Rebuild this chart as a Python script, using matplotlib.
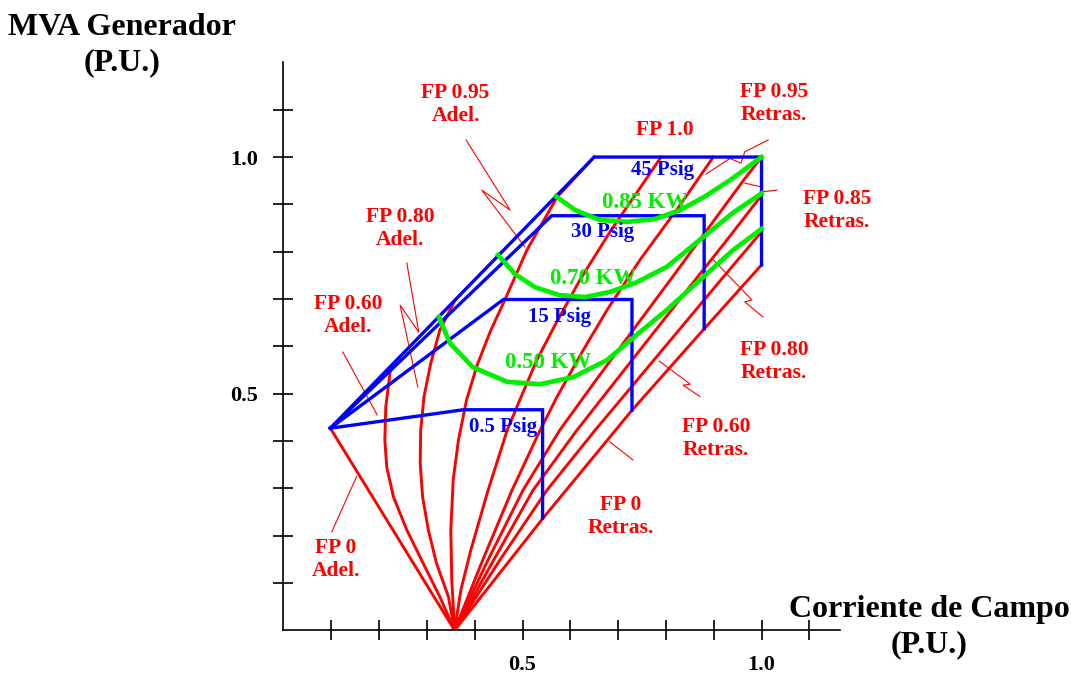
import matplotlib
matplotlib.use("Agg")
import matplotlib.pyplot as plt

# ---------------- data (per-unit values) ----------------
# constant power-factor lines (field current x, generator MVA y)
fp0_adel_x = [0.358, 0.098]
fp0_adel_y = [0.0, 0.427]
fp060_adel_x = [0.358, 0.327, 0.292, 0.258, 0.230, 0.216, 0.212, 0.214, 0.224]
fp060_adel_y = [0.0, 0.071, 0.142, 0.212, 0.282, 0.345, 0.402, 0.472, 0.554]
fp080_adel_x = [0.358, 0.345, 0.320, 0.303, 0.291, 0.286, 0.287, 0.294, 0.308, 0.327, 0.359]
fp080_adel_y = [0.0, 0.071, 0.142, 0.212, 0.282, 0.353, 0.423, 0.494, 0.564, 0.634, 0.698]
fp095_adel_x = [0.358, 0.352, 0.350, 0.355, 0.366, 0.383, 0.405, 0.432, 0.463, 0.509, 0.572, 0.650]
fp095_adel_y = [0.0, 0.106, 0.212, 0.318, 0.402, 0.487, 0.560, 0.630, 0.698, 0.803, 0.915, 1.0]
fp100_x = [0.358, 0.371, 0.392, 0.428, 0.468, 0.497, 0.530, 0.568, 0.620, 0.683, 0.740, 0.790]
fp100_y = [0.0, 0.085, 0.170, 0.296, 0.423, 0.493, 0.571, 0.645, 0.740, 0.842, 0.926, 1.0]
fp095_ret_x = [0.358, 0.417, 0.478, 0.537, 0.572, 0.627, 0.677, 0.746, 0.830, 0.899]
fp095_ret_y = [0.0, 0.149, 0.296, 0.423, 0.493, 0.592, 0.677, 0.783, 0.899, 1.0]
fp085_ret_x = [0.358, 0.428, 0.501, 0.578, 0.654, 0.731, 0.809, 0.886, 0.961, 1.0]
fp085_ret_y = [0.0, 0.149, 0.296, 0.423, 0.529, 0.634, 0.740, 0.846, 0.949, 1.0]
fp080_ret_x = [0.358, 0.440, 0.522, 0.614, 0.691, 0.769, 0.846, 0.924, 1.0]
fp080_ret_y = [0.0, 0.149, 0.296, 0.423, 0.522, 0.622, 0.721, 0.820, 0.919]
fp060_ret_x = [0.358, 0.453, 0.551, 0.652, 0.740, 0.827, 0.913, 1.0]
fp060_ret_y = [0.0, 0.149, 0.296, 0.423, 0.529, 0.634, 0.738, 0.842]
fp0_ret_x = [0.358, 0.543, 0.729, 0.880, 1.0]
fp0_ret_y = [0.0, 0.237, 0.465, 0.637, 0.772]

pf_lines = [
    (fp0_adel_x, fp0_adel_y), (fp060_adel_x, fp060_adel_y),
    (fp080_adel_x, fp080_adel_y), (fp095_adel_x, fp095_adel_y),
    (fp100_x, fp100_y), (fp095_ret_x, fp095_ret_y),
    (fp085_ret_x, fp085_ret_y), (fp080_ret_x, fp080_ret_y),
    (fp060_ret_x, fp060_ret_y), (fp0_ret_x, fp0_ret_y),
]

# hydrogen pressure capability limits (blue)
psig45_x = [0.098, 0.650, 1.0, 1.0]
psig45_y = [0.427, 1.0, 1.0, 0.772]
psig30_x = [0.098, 0.561, 0.880, 0.880]
psig30_y = [0.427, 0.876, 0.876, 0.637]
psig15_x = [0.098, 0.460, 0.729, 0.729]
psig15_y = [0.427, 0.699, 0.699, 0.465]
psig05_x = [0.098, 0.376, 0.542, 0.542]
psig05_y = [0.427, 0.466, 0.466, 0.237]
psig_lines = [(psig45_x, psig45_y), (psig30_x, psig30_y),
              (psig15_x, psig15_y), (psig05_x, psig05_y)]

# constant power curves (green)
kw085_x = [0.570, 0.610, 0.662, 0.719, 0.777, 0.830, 0.882, 0.934, 1.0]
kw085_y = [0.917, 0.888, 0.867, 0.863, 0.869, 0.888, 0.917, 0.951, 1.0]
kw070_x = [0.449, 0.484, 0.526, 0.578, 0.631, 0.683, 0.736, 0.802, 0.871, 0.940, 1.0]
kw070_y = [0.793, 0.753, 0.725, 0.708, 0.704, 0.715, 0.734, 0.768, 0.825, 0.882, 0.923]
kw050_x = [0.325, 0.348, 0.396, 0.468, 0.537, 0.606, 0.677, 0.736, 0.802, 0.871, 0.940, 1.0]
kw050_y = [0.662, 0.607, 0.556, 0.525, 0.520, 0.535, 0.571, 0.622, 0.677, 0.740, 0.803, 0.848]
kw_lines = [(kw085_x, kw085_y), (kw070_x, kw070_y), (kw050_x, kw050_y)]

# thin leader lines from the labels
leaders = [
    ([0.382, 0.474, 0.415, 0.505], [1.036, 0.888, 0.930, 0.810]),
    ([0.258, 0.283, 0.244, 0.281], [0.776, 0.630, 0.687, 0.514]),
    ([0.124, 0.196], [0.588, 0.455]),
    ([0.101, 0.153], [0.208, 0.325]),
    ([1.014, 0.965, 0.957, 0.934, 0.884], [1.036, 1.011, 0.987, 0.997, 0.964]),
    ([0.965, 1.003, 0.997, 1.032], [0.945, 0.936, 0.926, 0.930]),
    ([0.899, 0.980, 0.965, 1.003], [0.783, 0.698, 0.694, 0.662]),
    ([0.786, 0.851, 0.836, 0.871], [0.569, 0.520, 0.518, 0.494]),
    ([0.683, 0.731], [0.398, 0.360]),
]

pf_labels = ["FP 0.95\nAdel.", "FP 1.0", "FP 0.95\nRetras.", "FP 0.85\nRetras.",
             "FP 0.80\nAdel.", "FP 0.60\nAdel.", "FP 0.80\nRetras.",
             "FP 0.60\nRetras.", "FP 0\nRetras.", "FP 0\nAdel."]
pf_label_pos = [(0.360, 1.110), (0.798, 1.057), (1.026, 1.114), (1.158, 0.888),
                (0.244, 0.848), (0.135, 0.666), (1.026, 0.569), (0.905, 0.406),
                (0.706, 0.241), (0.110, 0.149)]
psig_labels = ["45 Psig", "30 Psig", "15 Psig", "0.5 Psig"]
psig_label_pos = [(0.794, 0.972), (0.668, 0.842), (0.578, 0.662), (0.459, 0.430)]
kw_labels = ["0.85 KW", "0.70 KW", "0.50 KW"]
kw_label_pos = [(0.756, 0.905), (0.647, 0.744), (0.553, 0.565)]

x_ticks = [0.1, 0.2, 0.3, 0.4, 0.5, 0.6, 0.7, 0.8, 0.9, 1.0, 1.1]
x_tick_labels = ["", "", "", "", "0.5", "", "", "", "", "1.0", ""]
y_ticks = [0.1, 0.2, 0.3, 0.4, 0.5, 0.6, 0.7, 0.8, 0.9, 1.0, 1.1]
y_tick_labels = ["", "", "", "", "0.5", "", "", "", "", "1.0", ""]

# ---------------- drawing ----------------
RED = "#ff0000"
BLUE = "#0000ff"
GREEN = "#00ee00"
SERIF = ["Liberation Serif", "DejaVu Serif"]

fig = plt.figure(figsize=(10.71, 6.75), dpi=100)
ax = fig.add_axes([0.2647, 0.0662, 0.5356, 0.8554])
ax.set_xlim(0, 1.2)
ax.set_ylim(0, 1.22)

for xs, ys in pf_lines:
    ax.plot(xs, ys, color=RED, lw=2.1, solid_joinstyle="round", zorder=2)
for xs, ys in leaders:
    ax.plot(xs, ys, color=RED, lw=0.8, zorder=2)
for xs, ys in psig_lines:
    ax.plot(xs, ys, color=BLUE, lw=2.4, solid_joinstyle="miter", zorder=3)
for xs, ys in kw_lines:
    ax.plot(xs, ys, color=GREEN, lw=3.4, solid_joinstyle="round", zorder=4)

for txt, (x, y) in zip(pf_labels, pf_label_pos):
    ax.text(x, y, txt, color=RED, fontsize=15.5, fontweight="bold", family=SERIF,
            ha="center", va="center", linespacing=1.2, zorder=5)
for txt, (x, y) in zip(psig_labels, psig_label_pos):
    ax.text(x, y, txt, color=BLUE, fontsize=15, fontweight="bold", family=SERIF,
            ha="center", va="center", zorder=5)
for txt, (x, y) in zip(kw_labels, kw_label_pos):
    ax.text(x, y, txt, color=GREEN, fontsize=16.5, fontweight="bold", family=SERIF,
            ha="center", va="center", zorder=5)

for s in ["top", "right"]:
    ax.spines[s].set_visible(False)
ax.spines["left"].set_bounds(0, 1.2)
ax.spines["bottom"].set_bounds(0, 1.165)
ax.spines["left"].set_linewidth(1.2)
ax.spines["bottom"].set_linewidth(1.2)

ax.set_xticks(x_ticks)
ax.set_xticklabels(x_tick_labels)
ax.set_yticks(y_ticks)
ax.set_yticklabels(y_tick_labels)
ax.tick_params(axis="both", direction="inout", length=14, width=1.2,
               labelsize=16)
ax.tick_params(axis="x", pad=11)
ax.tick_params(axis="y", pad=11)
for lab in ax.get_xticklabels() + ax.get_yticklabels():
    lab.set_fontweight("bold")
    lab.set_family(SERIF)

fig.text(122 / 1071, 1 - 45 / 675, "MVA Generador\n(P.U.)", ha="center", va="center",
         fontsize=23, fontweight="bold", family=SERIF, linespacing=1.3)
fig.text(929 / 1071, 1 - 627 / 675, "Corriente de Campo\n(P.U.)", ha="center",
         va="center", fontsize=23, fontweight="bold", family=SERIF, linespacing=1.3)

fig.savefig("out.png", dpi=100)
